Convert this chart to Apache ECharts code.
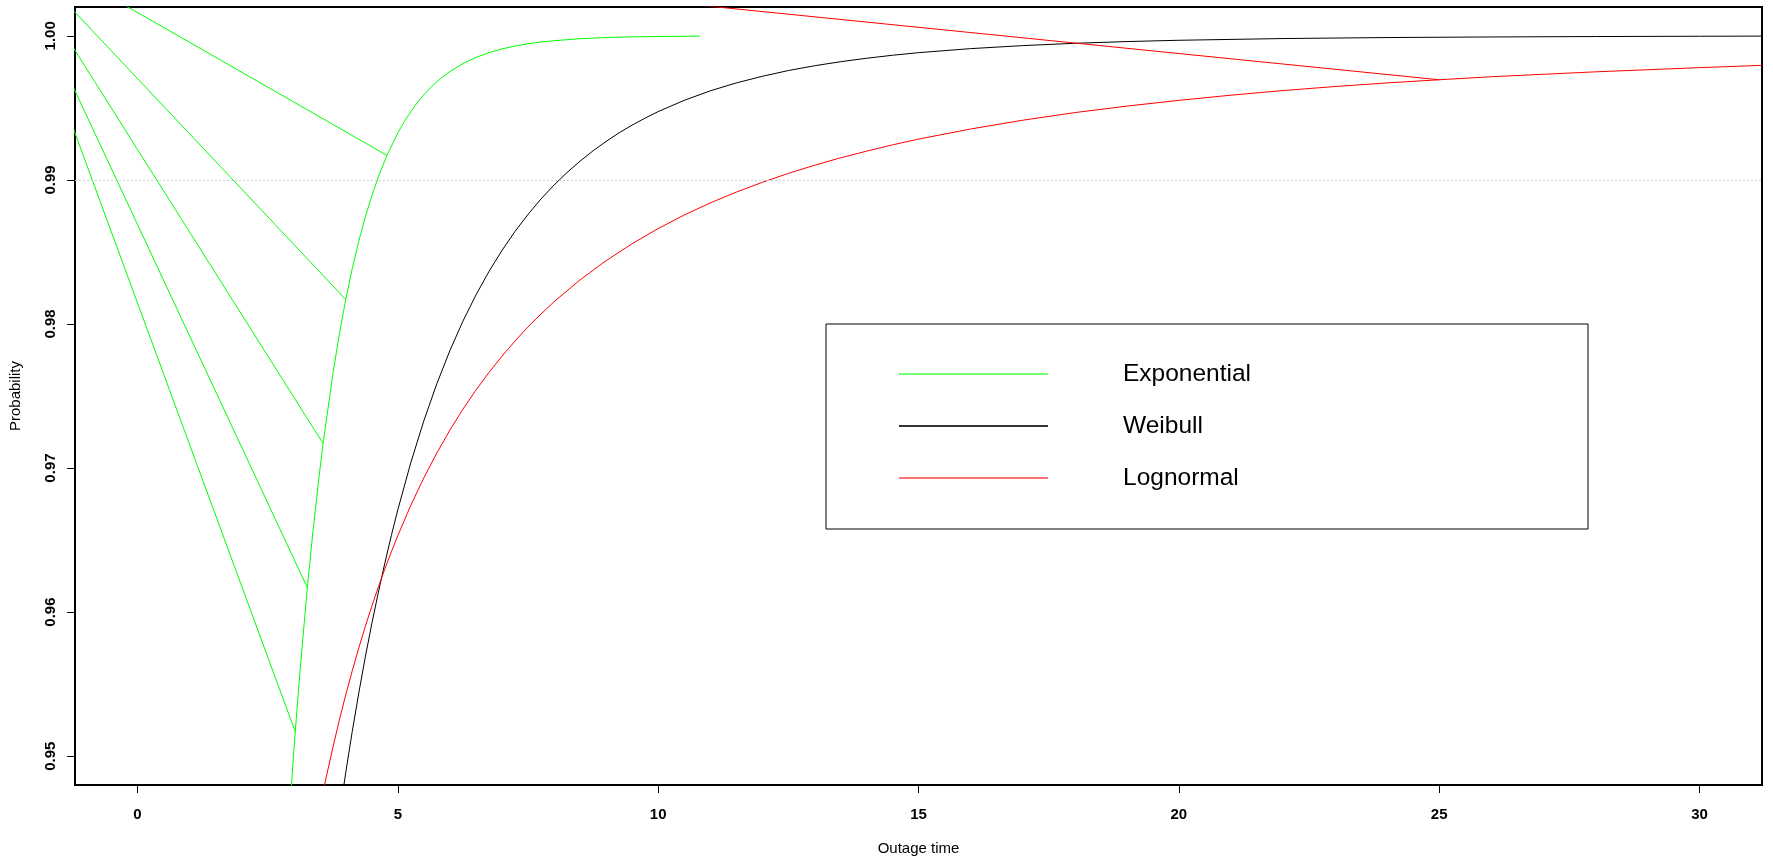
<!DOCTYPE html>
<html>
<head>
<meta charset="utf-8">
<title>Outage time distributions</title>
<script src="https://cdn.jsdelivr.net/npm/echarts@6/dist/echarts.min.js"></script>
<style>
  html, body { margin: 0; padding: 0; background: #ffffff; }
  #chart { width: 1773px; height: 862px; }
</style>
</head>
<body>
<div id="chart"></div>
<script>
// Tick positions
const xTicks = [0, 5, 10, 15, 20, 25, 30];
const yTicks = [0.95, 0.96, 0.97, 0.98, 0.99, 1.00];

// Exponential CDF
const expX = [2.9, 3.0, 3.03, 3.125, 3.262, 3.375, 3.5, 3.565, 3.75, 3.875, 4.0, 4.125, 4.25, 4.375, 4.5, 4.625, 4.791, 5.0, 5.125, 5.25, 5.375, 5.5, 5.625, 5.75, 5.875, 6.0, 6.25, 6.5, 6.75, 7.0, 7.25, 7.5, 7.75, 8.0, 8.5, 9.0, 9.5, 10.0, 10.8];
const expY = [0.94498, 0.95021, 0.9517, 0.95606, 0.9617, 0.96578, 0.96980, 0.9717, 0.97648, 0.97925, 0.9817, 0.98384, 0.98574, 0.98742, 0.98889, 0.99020, 0.9917, 0.99326, 0.99405, 0.99475, 0.99537, 0.99591, 0.99639, 0.99682, 0.99719, 0.99752, 0.99807, 0.99850, 0.99883, 0.99909, 0.99929, 0.99945, 0.99957, 0.99966, 0.99980, 0.99988, 0.99993, 0.99995, 0.99998];

// Weibull CDF
const weiX = [3.9, 4.0, 4.125, 4.25, 4.375, 4.5, 4.625, 4.75, 4.875, 5.0, 5.25, 5.5, 5.75, 6.0, 6.25, 6.5, 6.75, 7.0, 7.25, 7.5, 7.75, 8.0, 8.25, 8.5, 8.75, 9.0, 9.25, 9.5, 9.75, 10, 10.5, 11, 11.5, 12, 12.5, 13, 13.5, 14, 14.5, 15, 16, 17, 18, 19, 20, 22, 24, 26, 28, 30, 31.2];
const weiY = [0.94643, 0.94887, 0.95172, 0.95438, 0.95687, 0.95919, 0.96135, 0.96339, 0.96531, 0.96710, 0.97038, 0.97328, 0.97586, 0.97815, 0.98019, 0.98201, 0.98364, 0.98510, 0.98642, 0.98760, 0.98868, 0.98964, 0.99051, 0.99130, 0.99202, 0.99267, 0.99327, 0.99380, 0.99429, 0.99474, 0.99552, 0.99618, 0.99673, 0.99719, 0.99759, 0.99792, 0.99820, 0.99844, 0.99865, 0.99883, 0.99911, 0.99932, 0.99948, 0.99960, 0.99969, 0.99981, 0.99988, 0.99992, 0.99995, 0.99997, 0.99998];

// Lognormal CDF
const lnX = [3.5, 3.625, 3.75, 3.875, 4.0, 4.125, 4.25, 4.375, 4.5, 4.625, 4.75, 4.875, 5, 5.25, 5.5, 5.75, 6, 6.25, 6.5, 6.75, 7, 7.25, 7.5, 7.75, 8, 8.5, 9, 9.5, 10, 10.5, 11, 11.5, 12, 12.5, 13, 13.5, 14, 14.5, 15, 16, 17, 18, 19, 20, 21, 22, 23, 24, 25, 26, 28, 30, 31.2];
const lnY = [0.94638, 0.94854, 0.95056, 0.95247, 0.95426, 0.95593, 0.95751, 0.95900, 0.96040, 0.96173, 0.96299, 0.96418, 0.96531, 0.96742, 0.96932, 0.97105, 0.97263, 0.97408, 0.97541, 0.97663, 0.97776, 0.97881, 0.97980, 0.98069, 0.98154, 0.98306, 0.98439, 0.98557, 0.98662, 0.98756, 0.98840, 0.98915, 0.98983, 0.99045, 0.99101, 0.99153, 0.99199, 0.99243, 0.99283, 0.99353, 0.99414, 0.99467, 0.99512, 0.99552, 0.99588, 0.99620, 0.99648, 0.99673, 0.99695, 0.99716, 0.99750, 0.99779, 0.99795];

// Stray connecting segments: all start at one point outside the plot
const spokeStart = [-2.6, 1.007];
const expSpokeX = [3.03, 3.262, 3.565, 4.0, 4.791];
const expSpokeY = [0.9517, 0.9617, 0.9717, 0.9817, 0.9917];
const lnSpokeX = [25];
const lnSpokeY = [0.99695];

const refLevel = 0.99;

const FONT = "'Liberation Sans', Arial, sans-serif";

function pairs(xs, ys) {
  return xs.map((x, i) => [x, ys[i]]);
}
function spokes(xs, ys) {
  const out = [];
  xs.forEach((x, i) => {
    if (i > 0) out.push(null);
    out.push(spokeStart.slice(), [x, ys[i]]);
  });
  return out;
}

const chart = echarts.init(document.getElementById('chart'), null, { renderer: 'canvas' });

function lineSeries(name, color, data, extra) {
  return Object.assign({
    name: name,
    type: 'line',
    data: data,
    showSymbol: false,
    symbol: 'none',
    smooth: false,
    connectNulls: false,
    clip: true,
    animation: false,
    silent: true,
    lineStyle: { color: color, width: 1 },
    itemStyle: { color: color },
    emphasis: { disabled: true }
  }, extra || {});
}

chart.setOption({
  animation: false,
  backgroundColor: '#ffffff',
  textStyle: { fontFamily: FONT },
  grid: {
    left: 75, top: 7, width: 1687, height: 778,
    show: true, borderColor: '#000000', borderWidth: 2,
    backgroundColor: 'transparent',
    containLabel: false,
    outerBoundsMode: 'none'
  },
  xAxis: {
    type: 'value',
    min: -1.2, max: 31.2,
    name: 'Outage time',
    nameLocation: 'middle',
    nameGap: 55,
    nameTextStyle: { color: '#000', fontSize: 15, fontFamily: FONT, lineHeight: 18 },
    axisLine: { show: false, onZero: false },
    splitLine: { show: false },
    axisTick: { show: true, length: 8, customValues: xTicks, lineStyle: { color: '#000', width: 1 } },
    axisLabel: {
      customValues: xTicks, margin: 22, color: '#000',
      fontSize: 15, fontWeight: 'bold', fontFamily: FONT, lineHeight: 15
    }
  },
  yAxis: {
    type: 'value',
    min: 0.948, max: 1.002,
    name: 'Probability',
    nameLocation: 'middle',
    nameGap: 50,
    nameTextStyle: { color: '#000', fontSize: 15, fontFamily: FONT, lineHeight: 18 },
    axisLine: { show: false, onZero: false },
    splitLine: { show: false },
    axisTick: { show: true, length: 8, customValues: yTicks, lineStyle: { color: '#000', width: 1 } },
    axisLabel: {
      customValues: yTicks, margin: 17, rotate: 90, color: '#000',
      fontSize: 15, fontWeight: 'bold', fontFamily: FONT, lineHeight: 15,
      formatter: v => Number(v).toFixed(2)
    }
  },
  legend: {
    orient: 'vertical',
    left: 899, top: 360,
    padding: 0,
    itemGap: 24,
    itemWidth: 149,
    itemHeight: 2,
    icon: 'rect',
    selectedMode: false,
    data: [
      { name: 'Exponential', itemStyle: { color: '#00ff00', opacity: 0.55 } },
      { name: 'Weibull', itemStyle: { color: '#000000', opacity: 0.8 } },
      { name: 'Lognormal', itemStyle: { color: '#ff0000', opacity: 0.55 } }
    ],
    textStyle: {
      color: '#000', fontSize: 24.5, fontFamily: FONT, lineHeight: 28,
      padding: [0, 0, 0, 70]
    }
  },
  graphic: [{
    type: 'rect',
    left: 825.5, top: 323.5,
    shape: { width: 762, height: 205 },
    style: { fill: 'transparent', stroke: '#000', lineWidth: 1 },
    silent: true,
    z: 1
  }],
  series: [
    lineSeries('Exponential', '#00ff00', pairs(expX, expY), {
      markLine: {
        silent: true, symbol: 'none', animation: false,
        label: { show: false },
        lineStyle: { color: '#cfcfcf', type: [2, 2], width: 1 },
        data: [{ yAxis: refLevel }]
      }
    }),
    lineSeries('Exponential', '#00ff00', spokes(expSpokeX, expSpokeY)),
    lineSeries('Weibull', '#000000', pairs(weiX, weiY)),
    lineSeries('Lognormal', '#ff0000', pairs(lnX, lnY)),
    lineSeries('Lognormal', '#ff0000', spokes(lnSpokeX, lnSpokeY))
  ]
});
</script>
</body>
</html>
